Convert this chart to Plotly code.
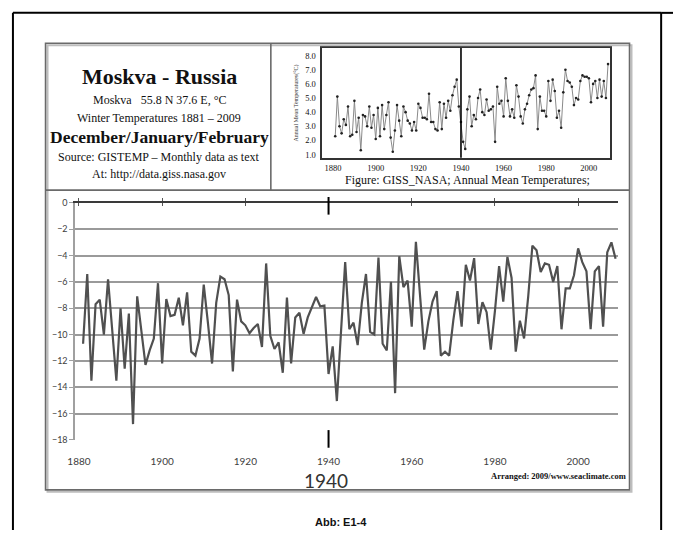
import plotly.graph_objects as go

# ---------------- data ----------------
years = list(range(1881, 2010))

winter_djf = [
    -10.7, -5.4, -13.5, -7.7, -7.35, -10.0, -5.8, -9.8, -13.5, -8.0,      # 1881-1890
    -12.6, -8.4, -16.8, -7.1, -9.6, -12.3, -11.2, -10.3, -6.1, -12.2,     # 1891-1900
    -7.3, -8.6, -8.5, -7.2, -9.3, -6.8, -11.3, -11.6, -10.3, -6.2,        # 1901-1910
    -9.1, -12.2, -7.6, -5.6, -5.8, -7.0, -12.8, -7.35, -9.0, -9.3,        # 1911-1920
    -9.9, -9.5, -9.2, -10.95, -4.6, -10.1, -11.1, -10.6, -12.9, -7.2,     # 1921-1930
    -12.2, -8.7, -8.35, -9.95, -8.7, -7.85, -7.15, -7.85, -7.8, -13.0,    # 1931-1940
    -10.9, -15.05, -9.8, -4.5, -9.6, -9.1, -10.8, -7.6, -5.4, -9.8,       # 1941-1950
    -10.0, -4.15, -10.7, -11.2, -6.0, -14.45, -4.05, -6.4, -5.9, -9.4,    # 1951-1960
    -2.95, -7.0, -11.15, -9.0, -7.5, -6.7, -11.6, -11.3, -11.6, -8.9,     # 1961-1970
    -6.7, -9.4, -4.7, -5.9, -4.2, -9.2, -7.55, -8.3, -11.15, -8.2,        # 1971-1980
    -4.8, -7.5, -4.1, -5.7, -11.3, -8.95, -10.3, -7.1, -3.25, -3.6,       # 1981-1990
    -5.25, -4.6, -4.7, -6.0, -4.8, -9.6, -6.5, -6.5, -5.5, -3.45,         # 1991-2000
    -4.5, -5.2, -9.6, -5.2, -4.8, -9.4, -3.75, -3.0, -4.25,               # 2001-2009
]

annual_mean = [
    2.3, 5.1, 3.0, 2.5, 3.5, 3.1, 4.4, 2.3, 2.4, 4.8,      # 1881-1890
    2.6, 3.6, 1.3, 3.8, 3.7, 3.0, 4.4, 2.9, 3.8, 2.1,      # 1891-1900
    4.3, 2.3, 4.5, 2.8, 3.8, 4.7, 2.2, 1.2, 2.7, 4.5,      # 1901-1910
    3.4, 2.3, 4.4, 4.0, 3.4, 3.2, 2.7, 3.3, 2.7, 4.6,      # 1911-1920
    4.3, 3.6, 3.6, 3.5, 5.3, 3.3, 3.3, 2.8, 2.7, 4.7,      # 1921-1930
    2.8, 4.6, 3.6, 4.8, 4.1, 5.2, 5.8, 6.3, 4.4, 3.3,      # 1931-1940
    1.9, 1.4, 4.2, 5.1, 3.0, 3.8, 3.5, 5.0, 5.6, 4.0,      # 1941-1950
    3.8, 4.9, 4.1, 4.2, 4.4, 1.9, 5.8, 4.6, 4.8, 3.7,      # 1951-1960
    6.4, 4.8, 3.7, 4.2, 3.6, 5.9, 5.1, 3.7, 3.2, 4.2,      # 1961-1970
    4.6, 5.2, 5.6, 5.7, 6.6, 2.8, 5.1, 4.1, 4.1, 3.7,      # 1971-1980
    6.2, 4.8, 6.3, 5.5, 3.6, 4.1, 2.9, 5.4, 7.0, 6.2,      # 1981-1990
    6.1, 5.8, 4.5, 5.0, 4.9, 6.2, 6.6, 6.5, 6.5, 6.4,      # 1991-2000
    4.7, 6.0, 6.2, 5.0, 6.3, 5.1, 6.2, 5.0, 7.4,           # 2001-2009
]
assert len(winter_djf) == len(years) and len(annual_mean) == len(years)

main_x_ticks = [1880, 1900, 1920, 1940, 1960, 1980, 2000]
main_y_ticks = [0, -2, -4, -6, -8, -10, -12, -14, -16, -18]
inset_x_ticks = [1880, 1900, 1920, 1940, 1960, 1980, 2000]
inset_y_ticks = [1, 2, 3, 4, 5, 6, 7, 8]
inset_y_text = ["1.0", "2.0", "3.0", "4.0", "5.0", "6.0", "7.0", "8.0"]
marker_year = 1940

# ---------------- layout helpers ----------------
W, H = 673, 535
def px(x):
    return x / W
def py(y):
    return 1 - y / H

SERIF = "Liberation Serif, Times New Roman, serif"
SANS = "Lato, Open Sans, sans-serif"

fig = go.Figure()

# main winter series
fig.add_trace(go.Scatter(
    x=years, y=winter_djf, mode="lines",
    line=dict(color="#505050", width=2.2),
    xaxis="x", yaxis="y", showlegend=False, hoverinfo="x+y"))

# helper traces to realise the crossing tick marks on the zero line
fig.add_trace(go.Scatter(x=[years[0]], y=[0], mode="markers", marker=dict(opacity=0),
                         xaxis="x2", yaxis="y", showlegend=False, hoverinfo="skip"))
fig.add_trace(go.Scatter(x=[years[0]], y=[0], mode="markers", marker=dict(opacity=0),
                         xaxis="x4", yaxis="y", showlegend=False, hoverinfo="skip"))

# inset annual means
fig.add_trace(go.Scatter(
    x=years, y=annual_mean, mode="lines+markers",
    line=dict(color="#8a8a8a", width=1),
    marker=dict(size=2.6, color="#222222"),
    xaxis="x3", yaxis="y3", showlegend=False, hoverinfo="x+y"))

main_dom_x = [px(68), px(617)]
main_dom_y = [py(443), py(201)]

fig.update_layout(
    width=W, height=H,
    margin=dict(l=0, r=0, t=0, b=0),
    paper_bgcolor="white", plot_bgcolor="rgba(0,0,0,0)",
    showlegend=False,
    xaxis=dict(domain=main_dom_x, anchor="y", range=[1879.1, 2009.5],
               tickvals=main_x_ticks, ticks="", showgrid=False, zeroline=False,
               showline=False, ticklabelstandoff=14,
               tickfont=dict(family=SANS, size=10, color="#404040")),
    xaxis2=dict(overlaying="x", matches="x", anchor="y", side="top",
                tickvals=main_x_ticks, ticks="outside", ticklen=3, tickwidth=1,
                tickcolor="#555555", showticklabels=False, showgrid=False,
                zeroline=False, showline=True, linecolor="#3a3a3a", linewidth=1.6),
    xaxis4=dict(overlaying="x", matches="x", anchor="y", side="top",
                tickvals=main_x_ticks, ticks="inside", ticklen=3, tickwidth=1,
                tickcolor="#555555", showticklabels=False, showgrid=False,
                zeroline=False, showline=False),
    yaxis=dict(domain=main_dom_y, anchor="x", range=[-18, 0],
               tickvals=main_y_ticks, showgrid=True, gridcolor="#9a9a9a",
               gridwidth=1.6, zeroline=False, showline=True, linecolor="#a0a0a0",
               linewidth=1.6, ticks="outside", ticklen=4, tickcolor="#a0a0a0",
               tickfont=dict(family=SANS, size=9, color="#404040")),
    xaxis3=dict(domain=[px(318), px(609)], anchor="y3", range=[1874.9, 2009.8],
                tickvals=inset_x_ticks, ticks="", showgrid=False, zeroline=False,
                showline=True, mirror=True, linecolor="#333333", linewidth=1.5,
                ticklabelstandoff=1,
                tickfont=dict(family=SERIF, size=8.5, color="#111111")),
    yaxis3=dict(domain=[py(155), py(43)], anchor="x3", range=[0.77, 8.53],
                tickvals=inset_y_ticks, ticktext=inset_y_text, ticks="",
                showgrid=False, zeroline=False, showline=True, mirror=True,
                linecolor="#333333", linewidth=1.5, ticklabelstandoff=3,
                tickfont=dict(family=SERIF, size=8.5, color="#111111"),
                title=dict(text="Annual Mean Temperatures(°C)", standoff=6,
                           font=dict(family=SERIF, size=6, color="#333333"))),
)

shapes = []
# outer black frame
shapes.append(dict(type="line", xref="paper", yref="paper", x0=px(5), x1=px(5),
                   y0=py(7), y1=py(535), line=dict(color="black", width=2)))
shapes.append(dict(type="line", xref="paper", yref="paper", x0=px(5), x1=px(661),
                   y0=py(7), y1=py(7), line=dict(color="black", width=2)))
shapes.append(dict(type="line", xref="paper", yref="paper", x0=px(661), x1=px(661),
                   y0=py(7), y1=py(535), line=dict(color="black", width=2)))
shapes.append(dict(type="line", xref="paper", yref="paper", x0=px(661), x1=px(673),
                   y0=py(7), y1=py(7), line=dict(color="black", width=2)))
# inner panel with slight shadow
shapes.append(dict(type="rect", xref="paper", yref="paper", x0=px(40), x1=px(631),
                   y0=py(496), y1=py(40), line=dict(color="#bdbdbd", width=2)))
shapes.append(dict(type="rect", xref="paper", yref="paper", x0=px(38), x1=px(629),
                   y0=py(494), y1=py(38), line=dict(color="#6a6a6a", width=1.6)))
shapes.append(dict(type="line", xref="paper", yref="paper", x0=px(38), x1=px(629),
                   y0=py(188), y1=py(188), line=dict(color="#6a6a6a", width=1.6)))
shapes.append(dict(type="line", xref="paper", yref="paper", x0=px(266), x1=px(266),
                   y0=py(188), y1=py(38), line=dict(color="#6a6a6a", width=1.6)))
# 1940 markers on main chart
shapes.append(dict(type="line", xref="x", yref="paper", x0=marker_year, x1=marker_year,
                   y0=py(213), y1=py(195), line=dict(color="black", width=2)))
shapes.append(dict(type="line", xref="x", yref="paper", x0=marker_year, x1=marker_year,
                   y0=py(451), y1=py(433), line=dict(color="black", width=2)))
# 1940 line in inset
shapes.append(dict(type="line", xref="x3", yref="y3 domain", x0=marker_year, x1=marker_year,
                   y0=0, y1=1, line=dict(color="black", width=1.6)))
fig.update_layout(shapes=shapes)

ann = []
def txt(x, y, s, size, family=SERIF, bold=False, color="#111111", xanchor="center"):
    if bold:
        s = "<b>" + s + "</b>"
    ann.append(dict(x=px(x), y=py(y), xref="paper", yref="paper", text=s,
                    showarrow=False, xanchor=xanchor, yanchor="middle",
                    font=dict(family=family, size=size, color=color)))

txt(153, 72, "Moskva - Russia", 22, bold=True)
txt(153, 96, "Moskva   55.8 N 37.6 E, °C", 12)
txt(153, 114, "Winter Temperatures 1881 – 2009", 12)
txt(153, 134, "December/January/February", 17.5, bold=True)
txt(153, 154, "Source: GISTEMP – Monthly data as text", 12)
txt(153, 172, "At: http://data.giss.nasa.gov", 12)
txt(465, 178, "Figure: GISS_NASA; Annual Mean Temperatures;", 12)
txt(322, 484, "1940", 19, family=SANS, color="#333333")
txt(627, 480, "Arranged: 2009/www.seaclimate.com", 8.5, bold=True, xanchor="right")
txt(337, 527, "Abb: E1-4", 11, family="Liberation Sans, Arial, sans-serif", bold=True)
fig.update_layout(annotations=ann)

fig.write_html("out.html",
               config={"displayModeBar": False},
               post_script="document.body.style.margin='0';document.body.style.overflow='hidden';")
